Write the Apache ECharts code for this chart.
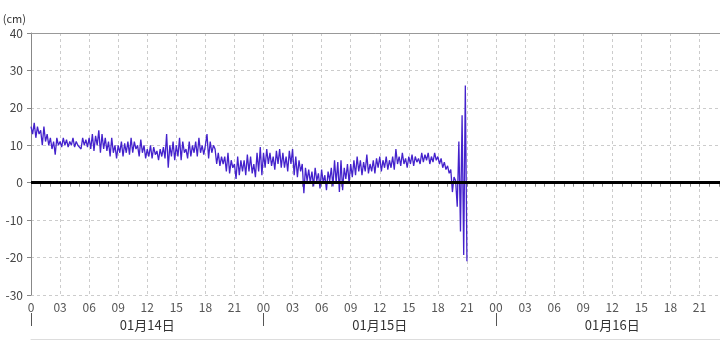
<!DOCTYPE html>
<html>
<head>
<meta charset="utf-8">
<script src="https://cdn.jsdelivr.net/npm/echarts@6/dist/echarts.min.js"></script>
<style>html,body{margin:0;padding:0;background:#fff}#c{width:720px;height:340px}</style>
</head>
<body>
<div id="c"></div>
<script>
// time step of the observations (minutes), starting 01/14 00:00
const stepMinutes = 10;
const dayLabels = ['01月14日', '01月15日', '01月16日'];
const yTicks = [-30, -20, -10, 0, 10, 20, 30, 40];
// observed values (cm), every 10 minutes, one row per hour
const tide = [
  15,13,16,12,15,13,
  14,10,15,11,13,10,
  12,9,11,7.5,12,10,
  11,9.5,12,10,11.5,9.5,
  11,10,12,9.5,11,10,
  10.5,9,12,10,11.5,9.5,
  12,9,13,8.5,12.5,10,
  14,8,13,9,12,8.5,
  11,7,12,8,10,6.5,
  10,8,11,7,10.5,8,
  11,7.5,12,8,11,9,
  10,7,11.5,8,10,6.5,
  9,7,10,6.5,9.5,7.5,
  8.5,6,9,7,9.5,6.5,
  13,4,10,7,11,6,
  10,7,12,6,11,8,
  9,6.5,11,7,10,8,
  11,7,12,8,10,7.5,
  10,13,6.5,11,8,10,
  9,5,8,4.5,7,5,
  7,3,8,2.5,6,4,
  5,1,7,2,6,3,
  6,2,7.5,3,7,2.5,
  5,1.5,8,3,9.5,2,
  8,4,9,5,8,4.5,
  7,3.5,8.5,5,9,4,
  8,4,7,3,8.5,5,
  9,2,7,1.5,6,3,
  5,-2.8,4,0.5,3.5,0,
  3,-1,4,0.5,2.5,-1.5,
  3.5,0,2,-2,3,0.5,
  4,-1,6,0,5.5,-2.5,
  6,-2,4,1,5,0,
  5,1.5,6,2,7,3,
  6,2,5.5,3,7.5,2.5,
  5,3,6,2.5,6.5,4,
  7,3,6,4,7,3.5,
  6,4,7,3.5,9,5,
  7,4.5,8,5,6.5,4,
  7,5,7.5,4.5,7,5.5,
  6.5,5,8,5.5,7.5,6,
  8,5,7,5.5,8,6,
  7,5,6.5,4,5.5,3.5,
  4.5,2.5,3.5,-2.5,1.5,0.5,
  -6.4,11,-13,18,-19.3,26,
  -21
];

const points = tide.map((v, i) => [i * stepMinutes / 60, v]);
const font = "'Noto Sans CJK JP', 'Noto Sans', sans-serif";

const chart = echarts.init(document.getElementById('c'), null, {renderer: 'canvas'});
chart.setOption({
  animation: false,
  grid: {left: 31, right: -8.5, top: 33, bottom: 45, containLabel: false, outerBoundsMode: 'none'},
  xAxis: [
    {
      type: 'value', position: 'bottom', min: 0, max: 72, interval: 3,
      axisLine: {show: true, lineStyle: {color: '#888', width: 1}},
      axisTick: {show: true, length: 4, lineStyle: {color: '#888'}},
      minorTick: {show: true, splitNumber: 3, length: 4, lineStyle: {color: '#888'}},
      splitLine: {show: true, lineStyle: {color: '#ccc', type: [3, 3], width: 1}},
      axisLabel: {
        margin: 6, color: '#555', fontSize: 12, fontFamily: font,
        formatter: v => v === 0 ? '0' : String(v % 24).padStart(2, '0')
      }
    },
    {
      type: 'category', position: 'bottom', offset: 18, data: dayLabels,
      boundaryGap: true,
      axisLine: {show: false},
      axisTick: {show: true, length: 13, lineStyle: {color: '#555'}},
      axisLabel: {margin: 6, interval: 0, color: '#333', fontSize: 13, fontFamily: font}
    },
    {
      type: 'value', position: 'bottom', offset: 44, min: 0, max: 72,
      axisLine: {show: true, lineStyle: {color: '#ddd', width: 1}},
      axisTick: {show: false}, axisLabel: {show: false}, splitLine: {show: false}
    },
    {
      type: 'value', position: 'top', min: 0, max: 72,
      axisLine: {show: true, lineStyle: {color: '#999', width: 1}},
      axisTick: {show: false}, axisLabel: {show: false}, splitLine: {show: false}
    }
  ],
  yAxis: {
    type: 'value', min: yTicks[0], max: yTicks[yTicks.length - 1], interval: 10,
    name: '(cm)', nameLocation: 'end', nameGap: 9,
    nameTextStyle: {align: 'right', padding: [0, 5, 0, 0], color: '#333', fontSize: 11, fontFamily: font},
    axisLine: {show: true, lineStyle: {color: '#888', width: 1}},
    axisTick: {show: true, length: 4, lineStyle: {color: '#888'}},
    splitLine: {show: true, lineStyle: {color: '#ccc', type: [3, 3], width: 1}},
    axisLabel: {margin: 8, color: '#444', fontSize: 12, fontFamily: font}
  },
  series: [{
    type: 'line', xAxisIndex: 0, data: points, showSymbol: false, symbol: 'none',
    lineStyle: {color: '#4422CC', width: 1.3}, silent: true,
    markLine: {
      silent: true, symbol: 'none', label: {show: false},
      lineStyle: {color: '#000', width: 3, type: 'solid'},
      data: [{yAxis: 0}]
    }
  }]
});
</script>
</body>
</html>
